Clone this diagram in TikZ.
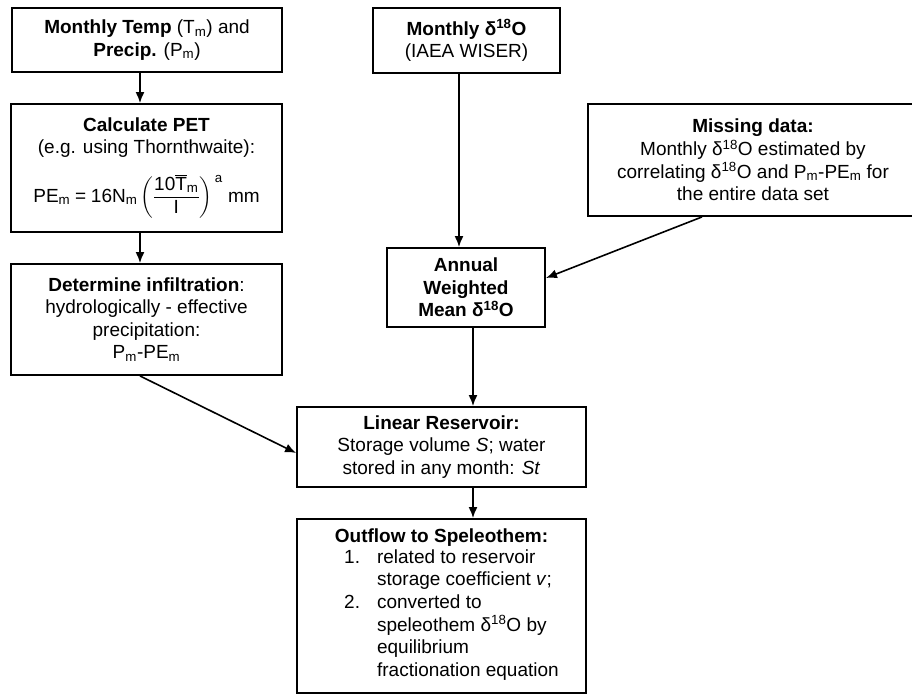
\documentclass[tikz,border=0pt]{standalone}
\usepackage{amsmath}
\usepackage{fontspec}
\setmainfont{Liberation Sans}
\usepackage{tikz}
\usetikzlibrary{arrows.meta, positioning}

\newcommand{\deltaO}{δ\textsuperscript{18}O}
\newcommand{\subm}[1]{#1\textsubscript{m}}

\tikzset{
    box/.style={draw, line width=1.9pt, align=center, inner sep=3pt,
        font=\fontsize{19}{22.6}\selectfont},
    flow/.style={->, line width=1.6pt}
}

\begin{document}
\begin{tikzpicture}[x=1pt, y=-1pt, >={Latex[length=11pt,width=9pt]}]

    \useasboundingbox (0,0) rectangle (912,695);

    % left column
    \node[box, minimum width=270pt, minimum height=64pt] at (147,40) (temp)
        {\textbf{Monthly Temp} (\subm{T}) and\\ \textbf{Precip.} (\subm{P})};
    \node[box, minimum width=271pt, minimum height=128pt] at (146.5,168) (pet)
        {\textbf{Calculate PET}\\ (e.g. using Thornthwaite):\\[15pt]
         $\text{PE}_{\text{m}} \mathrel{\text{=}} \text{16N}_{\text{m}}\,
          \biggl(\dfrac{\text{10}\overline{\text{T}}_{\text{m}}}{\text{I}}\biggr)^{\,\text{a}}$ mm};
    \node[box, minimum width=271pt, minimum height=111pt] at (146.5,319.5) (infil)
        {\textbf{Determine infiltration}:\\ hydrologically - effective\\ precipitation:\\ \subm{P}-\subm{PE}};

    % isotope column
    \node[box, minimum width=187pt, minimum height=65pt] at (466.5,40.5) (wiser)
        {\textbf{Monthly \deltaO}\\ (IAEA WISER)};
    \node[box, minimum width=330pt, minimum height=112pt, anchor=west] at (587,160) (missing)
        {\textbf{Missing data:}\\ Monthly \deltaO{} estimated by\\ correlating \deltaO{} and \subm{P}-\subm{PE} for\\ the entire data set};
    \node[box, minimum width=158pt, minimum height=79pt] at (466,287.5) (annual)
        {\textbf{Annual}\\ \textbf{Weighted}\\ \textbf{Mean \deltaO}};

    % reservoir and outflow
    \node[box, minimum width=289pt, minimum height=80pt] at (441.5,447) (reservoir)
        {\textbf{Linear Reservoir:}\\ Storage volume \textit{S}; water\\ stored in any month: \textit{St}};
    \node[box, minimum width=289pt, minimum height=174pt] at (441.5,606) (outflow)
        {\textbf{Outflow to Speleothem:}\\
         \hspace*{20pt}\begin{tabular}{@{}l@{\hspace{17pt}}l@{}}
            1. & related to reservoir\\
               & storage coefficient \textit{v};\\
            2. & converted to\\
               & speleothem \deltaO{} by\\
               & equilibrium\\
               & fractionation equation
         \end{tabular}};

    \draw[flow] ([xshift=-7pt]temp.south) -- ([xshift=-6.5pt]pet.north);
    \draw[flow] ([xshift=-6.5pt]pet.south) -- ([xshift=-6.5pt]infil.north);
    \draw[flow] ([xshift=-7.5pt]wiser.south) -- ([xshift=-7pt]annual.north);
    \draw[flow] ([xshift=-51pt]missing.south) -- ([yshift=9.5pt]annual.east);
    \draw[flow] ([xshift=-6.5pt]infil.south) -- ([yshift=-6pt]reservoir.west);
    \draw[flow] ([xshift=7pt]annual.south) -- ([xshift=31.5pt]reservoir.north);
    \draw[flow] ([xshift=31.5pt]reservoir.south) -- ([xshift=31.5pt]outflow.north);

\end{tikzpicture}
\end{document}
